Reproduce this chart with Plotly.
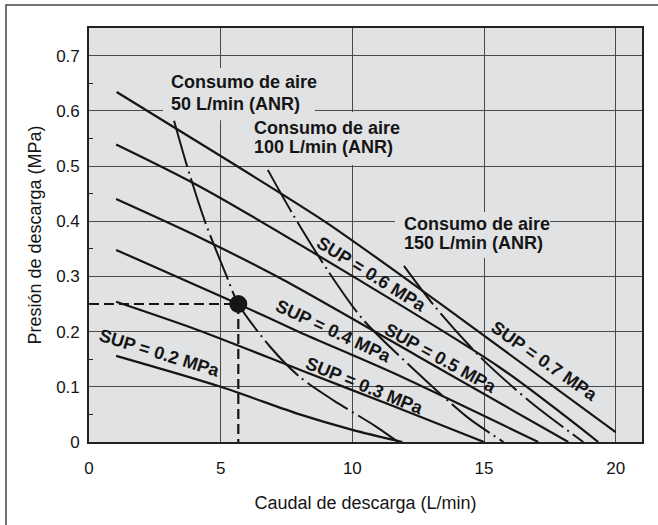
import plotly.graph_objects as go

# ---------------- data ----------------
sup_labels = ["SUP = 0.2 MPa", "SUP = 0.3 MPa", "SUP = 0.4 MPa",
              "SUP = 0.5 MPa", "SUP = 0.6 MPa", "SUP = 0.7 MPa"]

sup02_x = [1.03, 5.0, 8.0, 10.0, 11.9]
sup02_y = [0.156, 0.100, 0.050, 0.022, 0.0]

sup03_x = [1.03, 4.15, 8.0, 11.5, 15.0]
sup03_y = [0.254, 0.2025, 0.131, 0.066, 0.0]

sup04_x = [1.03, 5.67, 8.0, 11.56, 17.06]
sup04_y = [0.348, 0.250, 0.199, 0.125, 0.0]

sup05_x = [1.03, 4.22, 7.25, 12.5, 18.2]
sup05_y = [0.440, 0.370, 0.297, 0.155, 0.0]

sup06_x = [1.03, 4.22, 10.04, 15.6, 19.34]
sup06_y = [0.539, 0.4625, 0.2995, 0.135, 0.0]

sup07_x = [1.05, 5.0, 9.0, 13.3, 20.0]
sup07_y = [0.634, 0.518, 0.398, 0.252, 0.018]

air_labels = ["50 L/min (ANR)", "100 L/min (ANR)", "150 L/min (ANR)"]
air_title = "Consumo de aire"

air50_x = [3.23, 3.71, 4.4, 5.23, 5.67, 6.87, 8.0, 9.3, 10.9, 11.74]
air50_y = [0.582, 0.502, 0.40, 0.30, 0.25, 0.173, 0.118, 0.075, 0.028, 0.0]

air100_x = [6.79, 7.76, 9.09, 10.42, 12.44, 14.34, 15.74]
air100_y = [0.493, 0.411, 0.309, 0.221, 0.127, 0.046, 0.0]

air150_x = [11.96, 13.14, 14.9, 16.75, 18.77]
air150_y = [0.319, 0.245, 0.152, 0.073, 0.0]

point_x = 5.67
point_y = 0.25

x_ticks = [0, 5, 10, 15, 20]
y_ticks = [0, 0.1, 0.2, 0.3, 0.4, 0.5, 0.6, 0.7]
y_tick_text = ["0", "0.1", "0.2", "0.3", "0.4", "0.5", "0.6", "0.7"]
y_minor_ticks = [0.05, 0.15, 0.25, 0.35, 0.45, 0.55, 0.65]

x_title = "Caudal de descarga (L/min)"
y_title = "Presión de descarga (MPa)"

# ---------------- figure ----------------
FONT = "Arial, Liberation Sans, Helvetica, sans-serif"
INK = "#151515"
PLOT_BG = "#e1e2e4"

fig = go.Figure()

sup_series = [(sup02_x, sup02_y), (sup03_x, sup03_y), (sup04_x, sup04_y),
              (sup05_x, sup05_y), (sup06_x, sup06_y), (sup07_x, sup07_y)]
for (xs, ys), name in zip(sup_series, sup_labels):
    fig.add_trace(go.Scatter(x=xs, y=ys, mode="lines", name=name,
                             line=dict(color=INK, width=2.2, shape="spline", smoothing=0.8),
                             hoverinfo="skip", showlegend=False))

air_series = [(air50_x, air50_y), (air100_x, air100_y), (air150_x, air150_y)]
for (xs, ys), name in zip(air_series, air_labels):
    fig.add_trace(go.Scatter(x=xs, y=ys, mode="lines", name=name,
                             line=dict(color=INK, width=2.0, shape="spline", smoothing=0.8,
                                       dash="48px,5px,2px,5px"),
                             hoverinfo="skip", showlegend=False))

# dashed reading lines
fig.add_trace(go.Scatter(x=[0, point_x], y=[point_y, point_y], mode="lines",
                         line=dict(color=INK, width=2.2, dash="10px,5px"),
                         hoverinfo="skip", showlegend=False))
fig.add_trace(go.Scatter(x=[point_x, point_x], y=[point_y, 0], mode="lines",
                         line=dict(color=INK, width=2.2, dash="10px,5px"),
                         hoverinfo="skip", showlegend=False))
fig.add_trace(go.Scatter(x=[point_x], y=[point_y], mode="markers",
                         marker=dict(color=INK, size=18),
                         hoverinfo="skip", showlegend=False))

# masks behind the "Consumo de aire" labels (between grid and traces)
mask_boxes = [(2.81, 8.58, 0.583, 0.6775),
              (6.04, 11.81, 0.502, 0.598),
              (11.62, 17.51, 0.3333, 0.4167)]
for x0, x1, y0, y1 in mask_boxes:
    fig.add_shape(type="rect", xref="x", yref="y", x0=x0, x1=x1, y0=y0, y1=y1,
                  fillcolor=PLOT_BG, line=dict(width=0), layer="between")

# "Consumo de aire" labels
air_pos = [(3.04, 0.653, 0.612), (6.2, 0.569, 0.535), (11.88, 0.395, 0.360)]
for (x, y1, y2), lab in zip(air_pos, air_labels):
    fig.add_annotation(x=x, y=y1, text="<b>%s</b>" % air_title, showarrow=False,
                       xanchor="left", yanchor="middle",
                       font=dict(family=FONT, size=18, color=INK))
    fig.add_annotation(x=x, y=y2, text="<b>%s</b>" % lab, showarrow=False,
                       xanchor="left", yanchor="middle",
                       font=dict(family=FONT, size=18, color=INK))

# SUP labels
sup_pos = [(2.66, 0.161, 17), (10.48, 0.1015, 22), (9.27, 0.201, 25),
           (13.33, 0.152, 29), (10.71, 0.304, 32), (17.28, 0.147, 35)]
for (x, y, ang), lab in zip(sup_pos, sup_labels):
    fig.add_annotation(x=x, y=y, text="<b>%s</b>" % lab, showarrow=False,
                       textangle=ang, xanchor="center", yanchor="middle",
                       font=dict(family=FONT, size=18, color=INK))

# outer frame
fig.add_shape(type="rect", xref="paper", yref="paper",
              x0=-0.1501, x1=1.12, y0=-0.30, y1=1.0556,
              line=dict(color="#444444", width=1.5), fillcolor="rgba(0,0,0,0)",
              layer="above")

fig.update_layout(
    width=658, height=525,
    margin=dict(l=89, r=16, t=28, b=83, pad=0),
    paper_bgcolor="white", plot_bgcolor=PLOT_BG,
    font=dict(family=FONT, size=17, color=INK),
    showlegend=False,
)
fig.update_xaxes(
    range=[0, 21], tickmode="array", tickvals=x_ticks,
    showgrid=True, gridcolor="#4a4a4a", gridwidth=1,
    zeroline=False, showline=True, linecolor="#222222", linewidth=1.6, mirror=True,
    ticks="outside", ticklen=10, tickcolor="rgba(0,0,0,0)",
    tickfont=dict(family=FONT, size=17, color=INK),
    title=dict(text=x_title, standoff=19, font=dict(family=FONT, size=18, color=INK)),
    automargin=False, fixedrange=True,
)
fig.update_yaxes(
    range=[0, 0.75], tickmode="array", tickvals=y_ticks, ticktext=y_tick_text,
    showgrid=True, gridcolor="#4a4a4a", gridwidth=1,
    zeroline=False, showline=True, linecolor="#222222", linewidth=1.6, mirror=True,
    ticks="outside", ticklen=4, tickcolor="rgba(0,0,0,0)",
    tickfont=dict(family=FONT, size=17, color=INK),
    minor=dict(tickmode="array", tickvals=y_minor_ticks, ticks="inside",
               ticklen=4, tickwidth=1, tickcolor="#222222", showgrid=False),
    title=dict(text=y_title, standoff=10, font=dict(family=FONT, size=18, color=INK)),
    automargin=False, fixedrange=True,
)

fig.write_html("out.html", config={"displayModeBar": False},
               post_script="document.body.style.margin='0';")
